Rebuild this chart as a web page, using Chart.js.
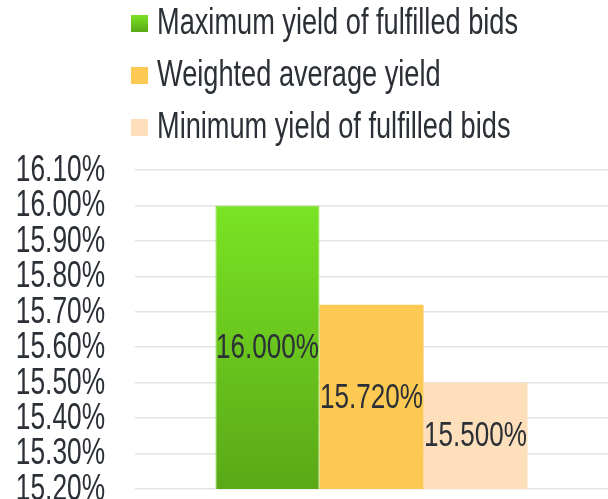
<!DOCTYPE html>
<html>
<head>
<meta charset="utf-8">
<script src="https://cdn.jsdelivr.net/npm/chart.js@4.4.1/dist/chart.umd.min.js"></script>
<style>
    html, body { margin: 0; padding: 0; background: #fff; overflow: hidden; }
    #wrap { width: 608px; height: 520px; position: relative; }
</style>
</head>
<body>
<div id="wrap"><canvas id="yieldChart"></canvas></div>
<script>
const categories = ['Auction'];
const seriesLabels = ['Maximum yield of fulfilled bids', 'Weighted average yield', 'Minimum yield of fulfilled bids'];
const seriesValues = [16.000, 15.720, 15.500];
const yMin = 15.2;
const yMax = 16.1;
const yStep = 0.1;

const FONT = "'Liberation Sans', Arial, sans-serif";
const TEXT = '#2b2f36';

// the source uses a narrow face, so text is squeezed sideways
function narrowText(c, text, x, y, size, squeeze, align) {
    c.save();
    c.font = size + 'px ' + FONT;
    c.textBaseline = 'middle';
    c.textAlign = align;
    c.translate(x, y);
    c.scale(squeeze, 1);
    c.fillText(text, 0, 0);
    c.restore();
}

document.addEventListener('DOMContentLoaded', () => {
    const ctx = document.getElementById('yieldChart').getContext('2d');

    const greenFill = (context) => {
        const area = context.chart.chartArea;
        if (!area) return '#6cc820';
        const g = context.chart.ctx.createLinearGradient(0, area.top + 35, 0, area.bottom);
        g.addColorStop(0, '#7ae324');
        g.addColorStop(1, '#5aa817');
        return g;
    };

    const fills = [greenFill, '#fcc953', '#fddfbc'];
    const borders = ['#86e03a', '#fcc953', '#fddfbc'];

    const textPlugin = {
        id: 'textLayer',
        afterDraw(chart) {
            const c = chart.ctx;
            const area = chart.chartArea;

            // y tick labels from the scale
            const ys = chart.scales.y;
            ys.ticks.forEach((t, i) => {
                c.fillStyle = TEXT;
                narrowText(c, t.value.toFixed(2) + '%', 105, ys.getPixelForTick(i) + 1, 36, 0.73, 'right');
            });

            // value labels in the middle of the visible part of each bar
            chart.data.datasets.forEach((ds, i) => {
                chart.getDatasetMeta(i).data.forEach((bar, j) => {
                    const bottom = Math.min(bar.base, area.bottom);
                    c.fillStyle = TEXT;
                    narrowText(c, ds.data[j].toFixed(3) + '%', bar.x, (bar.y + bottom) / 2 + 1, 35, 0.745, 'center');
                });
            });

            // legend, one row per series, left aligned
            const rows = [23, 75, 127];
            seriesLabels.forEach((label, i) => {
                const y = rows[i];
                if (i === 0) {
                    const g = c.createLinearGradient(0, y - 8, 0, y + 9);
                    g.addColorStop(0, '#7ae324');
                    g.addColorStop(1, '#5aa817');
                    c.fillStyle = g;
                } else {
                    c.fillStyle = fills[i];
                }
                c.fillRect(131, y - 8, 17, 17);
                c.fillStyle = TEXT;
                narrowText(c, label, 157, y + 1, 36, 0.755, 'left');
            });
        }
    };

    new Chart(ctx, {
        type: 'bar',
        data: {
            labels: categories,
            datasets: seriesLabels.map((label, i) => ({
                label,
                data: [seriesValues[i]],
                backgroundColor: fills[i],
                borderColor: borders[i],
                borderWidth: i === 0 ? 1 : 0,
                categoryPercentage: 0.66,
                barPercentage: 1.0
            }))
        },
        options: {
            responsive: true,
            maintainAspectRatio: false,
            animation: false,
            layout: { padding: { top: 170, left: 16, right: 0, bottom: 31 } },
            plugins: {
                legend: { display: false },
                tooltip: { enabled: false }
            },
            scales: {
                x: { display: false },
                y: {
                    min: yMin,
                    max: yMax,
                    border: { display: false },
                    grid: { color: '#e4e4e4', lineWidth: 1.5, drawTicks: false },
                    ticks: { display: false, stepSize: yStep, autoSkip: false },
                    afterFit: scale => { scale.width = 119; }
                }
            }
        },
        plugins: [textPlugin]
    });
});
</script>
</body>
</html>
